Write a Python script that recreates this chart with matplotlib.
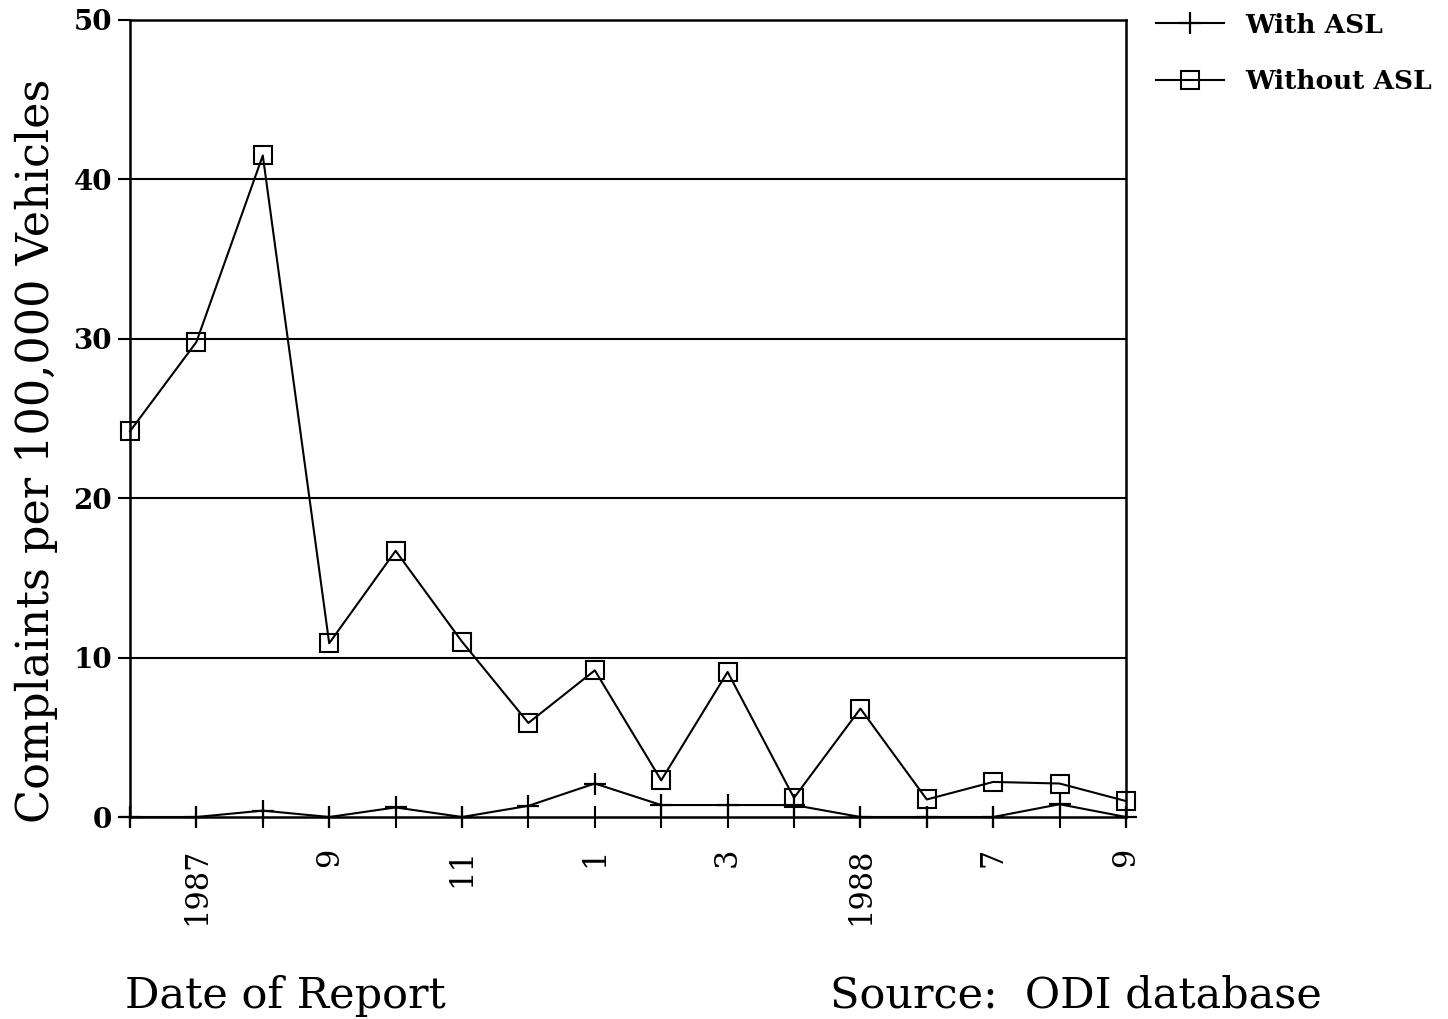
import matplotlib
matplotlib.use("Agg")
import matplotlib.pyplot as plt
import numpy as np

# monthly reports, 1987-1988
months = list(range(16))
tick_labels = ['', '1987', '', '9', '', '11', '', '1', '', '3', '', '1988', '', '7', '', '9']

with_asl = [0, 0, 0.4, 0, 0.6, 0, 0.7, 2.1, 0.75, 0.75, 0.75, 0, 0, 0, 0.8, 0]
without_asl = [24.2, 29.8, 41.5, 10.9, 16.7, 11.0, 5.9, 9.2, 2.3, 9.1, 1.2, 6.8, 1.1, 2.2, 2.1, 1.0]

fig = plt.figure(figsize=(14.48, 10.19), dpi=100)
ax = fig.add_axes([130 / 1448, 1 - 817 / 1019, 996 / 1448, 797 / 1019])

for y in [10, 20, 30, 40]:
    ax.axhline(y, color='black', lw=1.5, zorder=1)

ax.plot(months, with_asl, color='black', lw=1.5, marker='+', ms=16, mew=1.6,
        label='With ASL', zorder=3, clip_on=False)
ax.plot(months, without_asl, color='black', lw=1.5, marker='s', ms=13, mew=1.5,
        mfc='none', label='Without ASL', zorder=3, clip_on=False)

ax.set_xlim(0, 15)
ax.set_ylim(0, 50)
ax.set_xticks(months)
ax.set_xticklabels(tick_labels, rotation=90, family='DejaVu Serif', fontsize=22)
ax.set_yticks([0, 10, 20, 30, 40, 50])
ax.set_yticklabels(['0', '10', '20', '30', '40', '50'], family='DejaVu Serif',
                   fontsize=20, fontweight='bold')
ax.tick_params(axis='x', direction='inout', length=16, width=1.5, pad=14)
ax.tick_params(axis='y', direction='out', length=9, width=1.5, pad=4)
for s in ax.spines.values():
    s.set_linewidth(1.8)

ax.set_ylabel('Complaints per 100,000 Vehicles', family='DejaVu Serif', fontsize=32)
ax.yaxis.set_label_coords(-0.072, 0.46)

fig.legend(loc='upper left', bbox_to_anchor=(1145 / 1448, 1 - 2 / 1019), frameon=False,
           prop={'family': 'DejaVu Serif', 'size': 19, 'weight': 'bold'},
           handlelength=2.6, handletextpad=0.8, labelspacing=1.2, borderaxespad=0)

fig.text(125 / 1448, 1 - 1008 / 1019, 'Date of Report', family='DejaVu Serif', fontsize=31)
fig.text(830 / 1448, 1 - 1008 / 1019, 'Source:  ODI database', family='DejaVu Serif', fontsize=31)

fig.savefig('out.png', dpi=100, facecolor='white')
